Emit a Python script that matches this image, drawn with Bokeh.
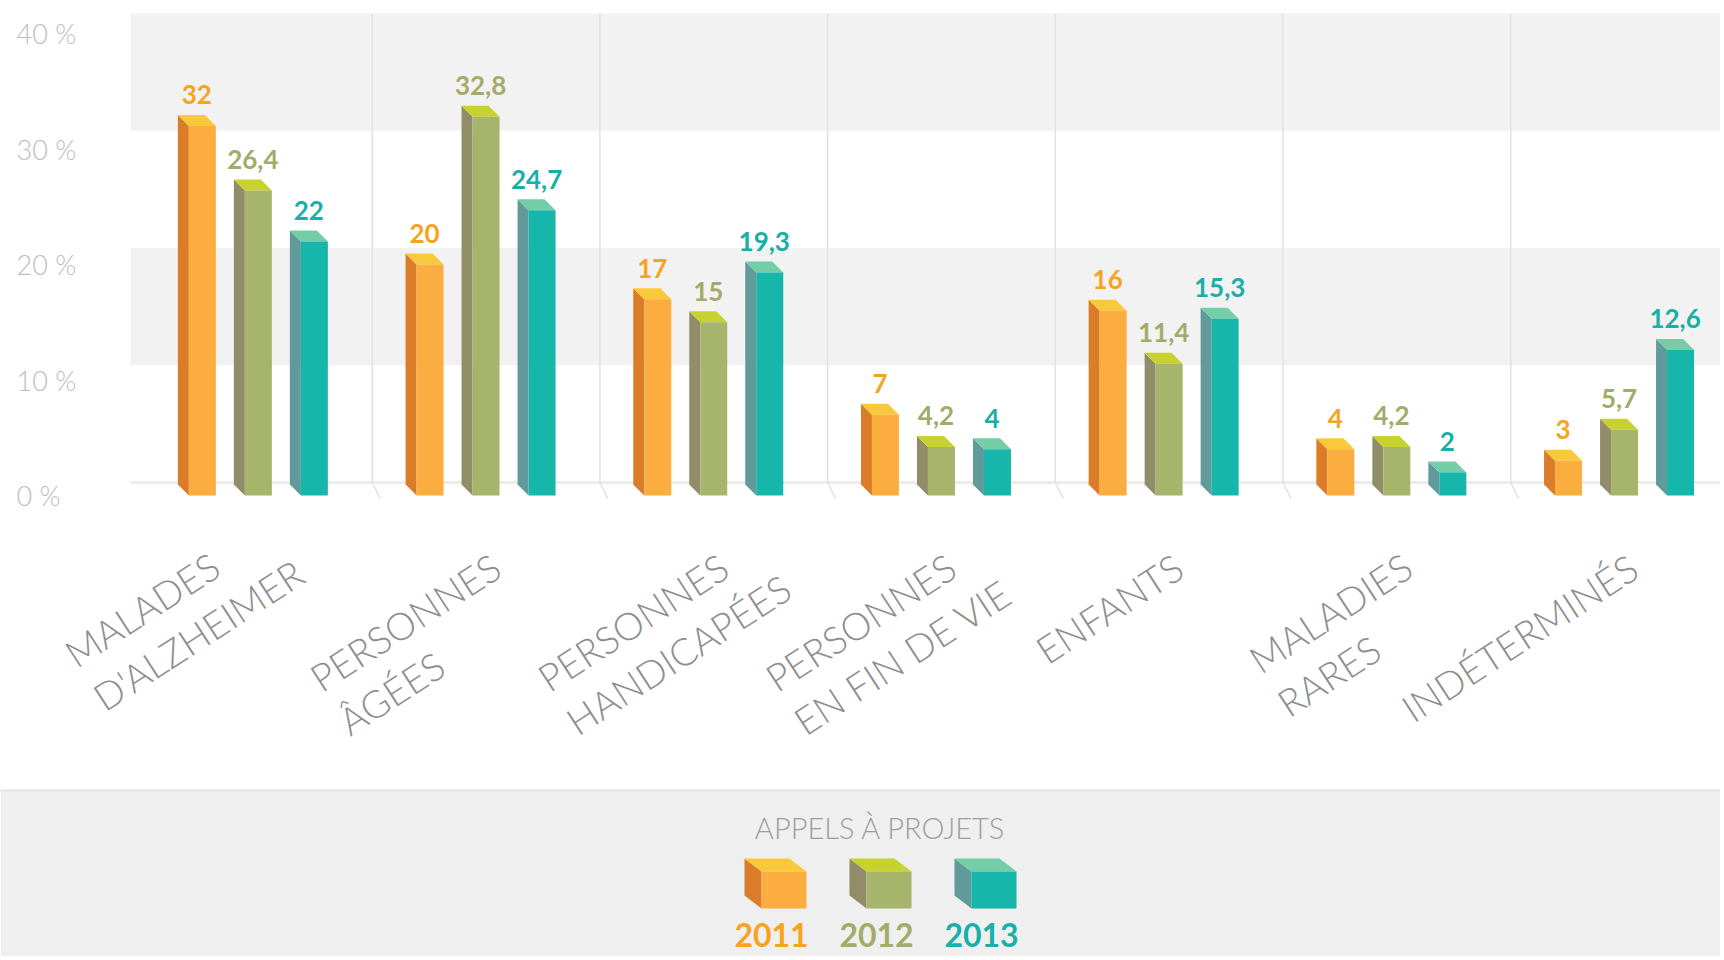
import math
from bokeh.plotting import figure
from bokeh.models import Range1d
from bokeh.core.properties import value
from bokeh.embed import file_html
from bokeh.resources import INLINE

# ---------------- data ----------------
CATEGORIES = ["MALADES\nD'ALZHEIMER", "PERSONNES\nÂGÉES", "PERSONNES\nHANDICAPÉES",
              "PERSONNES\nEN FIN DE VIE", "ENFANTS", "MALADIES\nRARES", "INDÉTERMINÉS"]
YEARS = ["2011", "2012", "2013"]
V2011 = [32, 20, 17, 7, 16, 4, 3]
V2012 = [26.4, 32.8, 15, 4.2, 11.4, 4.2, 5.7]
V2013 = [22, 24.7, 19.3, 4, 15.3, 2, 12.6]
Y_TICKS = [0, 10, 20, 30, 40]
LEGEND_TITLE = "APPELS À PROJETS"

# ---------------- style ----------------
W, H = 1720, 956
PAGE = 0
X0_REF, UNIT_X = 130.0, 227.7      # reference px of x=0 and px per category
Y0_REF, UNIT_Y = 495.0, 11.55      # reference px of value 0 and px per %
FRONT = ["#FBAD40", "#A7B46C", "#16B6AB"]
SIDE = ["#DA7C28", "#918D69", "#609A9A"]
CAP = ["#F8C93A", "#C8D22E", "#73CDA6"]
TEXT = ["#F6A31E", "#A3AB68", "#17AFA8"]
GREY_BAND = "#F2F2F2"
FONT = value("Lato")
LIGHT = value("'Lato Light', Lato")


def X(px):
    return (px - X0_REF) / UNIT_X


def Y(py):
    return (Y0_REF - py) / UNIT_Y


p = figure(width=W, height=H, output_backend="svg", toolbar_location=None,
           x_range=Range1d(X(PAGE), X(PAGE + W)), y_range=Range1d(Y(PAGE + H), Y(PAGE)),
           x_axis_location=None, y_axis_location=None, min_border=0)
p.outline_line_color = None
p.grid.visible = False
p.background_fill_color = "white"
p.border_fill_color = "white"

ncat = len(CATEGORIES)

# background bands (band scale slightly offset from tick labels, as in the original)
BAND_FLOOR, BAND_STEP = 482.0, 11.725


def band_y(t):
    return Y(BAND_FLOOR - t * BAND_STEP)


grey = [(Y_TICKS[k], Y_TICKS[k + 1]) for k in range(len(Y_TICKS) - 1) if k % 2 == 1]
p.quad(left=[X(130)] * len(grey), right=[X(1724)] * len(grey),
       bottom=[band_y(a) for a, b in grey], top=[band_y(b) for a, b in grey],
       fill_color=GREY_BAND, line_color=None)
p.segment(x0=[X(130)], y0=[band_y(0)], x1=[X(1724)], y1=[band_y(0)],
          line_color="#ECECEC", line_width=3)

# separators between categories
SEP_SHIFT = 14 / UNIT_X
for i in range(1, ncat):
    xs = i + SEP_SHIFT
    p.line(x=[xs, xs, xs + 8 / UNIT_X], y=[band_y(Y_TICKS[-1]), band_y(0), band_y(0) - 16 / UNIT_Y],
           line_color="#E2E2E2", line_width=1.5)

# y tick labels
p.text(x=[X(16)] * len(Y_TICKS), y=Y_TICKS, text=[f"{t} %" for t in Y_TICKS],
       text_align="left", text_baseline="middle", text_font=LIGHT,
       text_font_size="27px", text_color="#BDBDBD")

# 3D bars
DX = 11 / UNIT_X
DY = 11 / UNIT_Y
HALF = 13.5 / UNIT_X
SHIFT = 14 / UNIT_X
STEP = 56 / UNIT_X
series = [V2011, V2012, V2013]
for j, vals in enumerate(series):
    xc = [i + 0.5 + SHIFT + (j - 1) * STEP for i in range(ncat)]
    left = [x - HALF for x in xc]
    right = [x + HALF for x in xc]
    p.patches(xs=[[l - DX, l - DX, l, l] for l in left],
              ys=[[DY, v + DY, v, 0] for v in vals],
              fill_color=SIDE[j], line_color=None)
    p.patches(xs=[[l, l - DX, r - DX, r] for l, r in zip(left, right)],
              ys=[[v, v + DY, v + DY, v] for v in vals],
              fill_color=CAP[j], line_color=None)
    p.quad(left=left, right=right, top=vals, bottom=[0] * ncat,
           fill_color=FRONT[j], line_color=None)
    p.text(x=[x - DX / 2 for x in xc], y=[v + DY for v in vals],
           text=[f"{v:g}".replace(".", ",") for v in vals],
           text_align="center", text_baseline="alphabetic", text_font=FONT,
           text_font_style="bold", text_font_size="26px", text_color=TEXT[j], y_offset=-20)

# category labels (rotated, two lines, left aligned)
CW = {'A': 0.68, 'B': 0.65, 'C': 0.70, 'D': 0.76, 'E': 0.57, 'F': 0.55, 'G': 0.74, 'H': 0.77,
      'I': 0.29, 'J': 0.40, 'K': 0.67, 'L': 0.50, 'M': 0.93, 'N': 0.77, 'O': 0.82, 'P': 0.61,
      'R': 0.64, 'S': 0.54, 'T': 0.61, 'U': 0.74, 'V': 0.68, 'Z': 0.62, "'": 0.22, ' ': 0.26,
      'É': 0.57, 'Â': 0.68}
CAT_FS = 38
TH = math.radians(33)
LABEL_NUDGE = [-55, 0, 0, 0, 0, 0, 0]
TOP_PAD = 9
lx, ly = [], []
for i, lab in enumerate(CATEGORIES):
    first = lab.split("\n")[0]
    w1 = sum(CW.get(c, 0.6) for c in first) * CAT_FS
    cx = X0_REF + UNIT_X * (i + 0.5)
    ex, ey = cx + 20 + LABEL_NUDGE[i], 548.0
    ax = ex - w1 * math.cos(TH) - TOP_PAD * math.sin(TH)
    ay = ey + w1 * math.sin(TH) - TOP_PAD * math.cos(TH)
    lx.append(X(ax))
    ly.append(Y(ay))
p.text(x=lx, y=ly, text=CATEGORIES, angle=TH, text_align="left", text_baseline="top",
       text_font=LIGHT, text_font_size=f"{CAT_FS}px", text_color="#8E8E8E",
       text_line_height=1.13)

# legend area
p.quad(left=[X(0)], right=[X(1724)], bottom=[Y(960)], top=[Y(789)],
       fill_color="#EFEFEF", line_color=None)
p.segment(x0=[X(0)], y0=[Y(790)], x1=[X(1724)], y1=[Y(790)], line_color="#E6E6E6", line_width=2)
p.text(x=[X(880)], y=[Y(827)], text=[LEGEND_TITLE], text_align="center", text_baseline="middle",
       text_font=LIGHT, text_font_size="29px", text_color="#9D9D9D")

LDX, LDY = 17, 13
for k, yr in enumerate(YEARS):
    cxr = 880 + (k - 1) * 105
    fl, fr, ft, fb = cxr - 14, cxr + 31, 871, 908
    p.patch(x=[X(fl - LDX), X(fl - LDX), X(fl), X(fl)],
            y=[Y(fb - LDY), Y(ft - LDY), Y(ft), Y(fb)], fill_color=SIDE[k], line_color=None)
    p.patch(x=[X(fl), X(fl - LDX), X(fr - LDX), X(fr)],
            y=[Y(ft), Y(ft - LDY), Y(ft - LDY), Y(ft)], fill_color=CAP[k], line_color=None)
    p.quad(left=[X(fl)], right=[X(fr)], top=[Y(ft)], bottom=[Y(fb)],
           fill_color=FRONT[k], line_color=None)
    p.text(x=[X(cxr - 4)], y=[Y(934)], text=[yr], text_align="center", text_baseline="middle",
           text_font=FONT, text_font_style="bold", text_font_size="32px", text_color=TEXT[k])

open("out.html", "w").write(file_html(p, INLINE))
